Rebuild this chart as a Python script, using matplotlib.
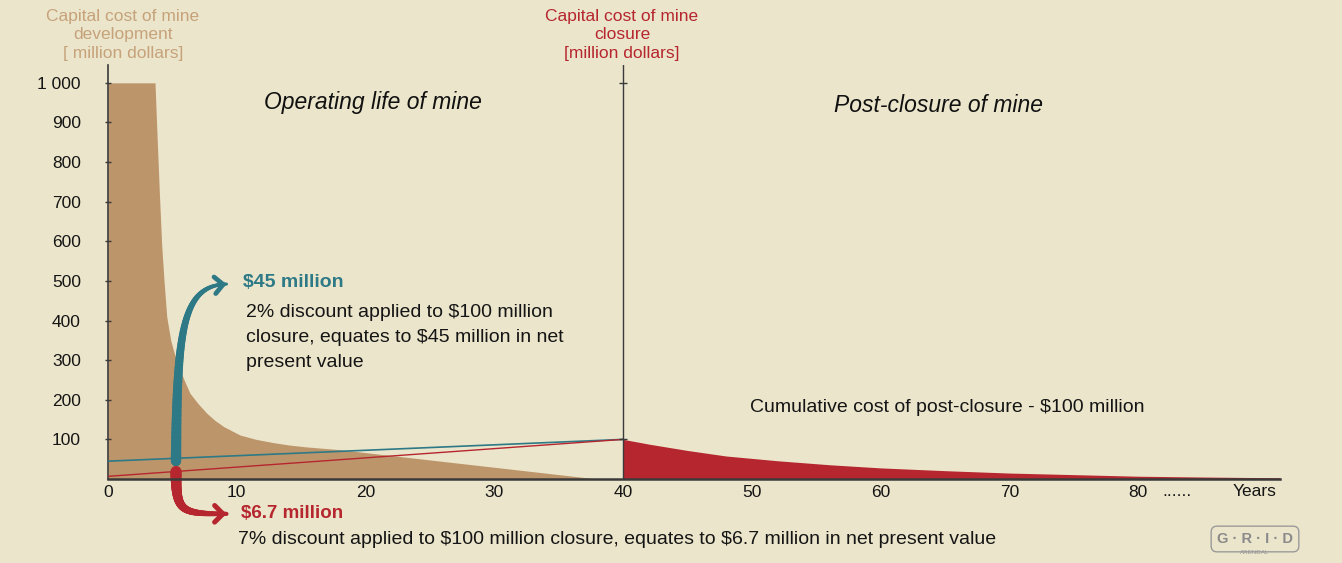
import matplotlib
matplotlib.use("Agg")
import matplotlib.pyplot as plt
import numpy as np
from matplotlib.collections import LineCollection

# Capital cost of mine development (million dollars) by year
dev_years = [0, 3.65, 3.78, 3.99, 4.17, 4.35, 4.56, 4.87, 5.07, 5.33, 5.59, 6.0, 6.37,
             7.0, 7.67, 8.3, 9.0, 10.25, 11.5, 12.8, 14.0, 15.4, 18.0, 38]
dev_cost = [1000, 1000, 890, 721, 590, 500, 410, 350, 326, 298, 275, 243, 216,
            190, 166, 148, 132, 111, 100, 92, 86, 81, 74, 0]

# Post-closure cost (million dollars) by year
post_years = [40, 42, 45, 48, 52, 56, 60, 65, 70, 75, 80, 85, 91]
post_cost = [100, 88, 72, 58, 46, 36, 28, 21, 15, 11, 7, 5, 3]

# Net present value of closure cost, discounted back to year 0
npv_years = [0, 40]
npv_2pct = [45, 100]
npv_7pct = [6.7, 100]

y_ticks = [100, 200, 300, 400, 500, 600, 700, 800, 900, 1000]
y_labels = ["100", "200", "300", "400", "500", "600", "700", "800", "900", "1 000"]
x_ticks = [0, 10, 20, 30, 40, 50, 60, 70, 80]

BG = "#ebe5cb"
BROWN = "#bd956b"
RED = "#b6262f"
TEAL = "#2d7986"
TAN = "#c6a27b"
DARK = "#3a3a3a"
INK = "#151515"

plt.rcParams["font.family"] = ["Liberation Sans", "DejaVu Sans"]

W, H = 1342, 563
fig = plt.figure(figsize=(W / 100, H / 100), dpi=100)
fig.patch.set_facecolor(BG)


def px(x, y):
    return x / W, 1 - y / H


def tapered_arrow(ax, ctrl, w0, w1, color, head_lw):
    """cubic bezier shaft that narrows from w0 to w1, with an open chevron head"""
    p = np.array(ctrl, dtype=float)
    t = np.linspace(0, 1, 80)[:, None]
    pts = ((1 - t) ** 3 * p[0] + 3 * (1 - t) ** 2 * t * p[1]
           + 3 * (1 - t) * t ** 2 * p[2] + t ** 3 * p[3])
    segs = np.stack([pts[:-1], pts[1:]], axis=1)
    widths = np.linspace(w0, w1, len(segs))
    lc = LineCollection(segs, linewidths=widths, colors=color, capstyle="round",
                        zorder=5, clip_on=False)
    ax.add_collection(lc)
    ax.annotate("", xy=tuple(p[3]), xytext=tuple(pts[-6]),
                arrowprops=dict(arrowstyle="->,head_length=0.6,head_width=0.6",
                                lw=head_lw, color=color, shrinkA=0, shrinkB=0),
                annotation_clip=False, zorder=5)


ax = fig.add_axes([108 / W, 84 / H, 1172 / W, 414 / H])
ax.set_facecolor(BG)
ax.set_xlim(0, 91)
ax.set_ylim(0, 1045)

ax.fill_between(dev_years, dev_cost, color=BROWN, lw=0, zorder=1)
ax.fill_between(post_years, post_cost, color=RED, lw=0, zorder=1)

ax.plot(npv_years, npv_2pct, color=TEAL, lw=1.2, zorder=3)
ax.plot(npv_years, npv_7pct, color=RED, lw=1.0, zorder=3)

# closure marker line at year 40
ax.axvline(40, color=DARK, lw=1.0, zorder=4)
ax.plot([40, 40], [1000, 100], ls="none", marker="_", ms=6, mew=1, color=DARK, zorder=4)

# curved arrows pointing to the two present values
tapered_arrow(ax, [(5.28, 45), (5.36, 376), (5.75, 488), (9.2, 492)], 7.5, 2.2, TEAL, 3.4)
tapered_arrow(ax, [(5.28, 19), (5.28, -83), (5.6, -88), (9.2, -88)], 8, 3, RED, 3.6)

for s in ["top", "right"]:
    ax.spines[s].set_visible(False)
ax.spines["left"].set_color(DARK)
ax.spines["left"].set_linewidth(1.2)
ax.spines["bottom"].set_color(DARK)
ax.spines["bottom"].set_linewidth(1.8)
ax.spines["bottom"].set_zorder(6)

ax.set_yticks(y_ticks)
ax.set_yticklabels(y_labels)
ax.set_xticks(x_ticks)
ax.tick_params(axis="y", direction="inout", length=5, width=1, color=DARK,
               pad=17, labelsize=12.5, labelcolor=INK)
ax.tick_params(axis="x", length=0, pad=4, labelsize=12.5, labelcolor=INK)

xt = ax.get_xaxis_transform()
ax.text(81.9, -0.012, "......", transform=xt, ha="left", va="top", fontsize=12.5, color=INK)
ax.text(89.0, -0.012, "Years", transform=xt, ha="center", va="top", fontsize=12.5, color=INK)

# section titles
fig.text(*px(373, 103), "Operating life of mine", ha="center", va="center",
         fontsize=16.5, style="italic", color="#111111")
fig.text(*px(938, 105), "Post-closure of mine", ha="center", va="center",
         fontsize=16.5, style="italic", color="#111111")

# axis headers
fig.text(*px(123, 9), "Capital cost of mine\ndevelopment\n[ million dollars]", ha="center",
         va="top", fontsize=12.5, color=TAN, linespacing=1.28)
fig.text(*px(622, 9), "Capital cost of mine\nclosure\n[million dollars]", ha="center",
         va="top", fontsize=12.5, color=RED, linespacing=1.28)

# annotations
fig.text(*px(243, 283), "\\$45 million", ha="left", va="center", fontsize=14,
         fontweight="bold", color=TEAL)
fig.text(*px(246, 304),
         "2% discount applied to \\$100 million\nclosure, equates to \\$45 million in net\npresent value",
         ha="left", va="top", fontsize=14, color=INK, linespacing=1.62)
fig.text(*px(750, 408), "Cumulative cost of post-closure - \\$100 million", ha="left", va="center",
         fontsize=14, color=INK)
fig.text(*px(241, 514), "\\$6.7 million", ha="left", va="center", fontsize=13.5,
         fontweight="bold", color=RED)
fig.text(*px(238, 540),
         "7% discount applied to \\$100 million closure, equates to \\$6.7 million in net present value",
         ha="left", va="center", fontsize=14, color=INK)

# logo
fig.text(*px(1255, 539), "G \u00b7 R \u00b7 I \u00b7 D", ha="center", va="center", fontsize=10.5,
         fontweight="bold", color="#8a8a8a",
         bbox=dict(boxstyle="round,pad=0.4", fc="none", ec="#9a9a9a", lw=1))
fig.text(*px(1255, 553), "ARENDAL", ha="center", va="center", fontsize=4.5, color="#9a9a9a")

fig.savefig("out.png", dpi=100, facecolor=BG)
